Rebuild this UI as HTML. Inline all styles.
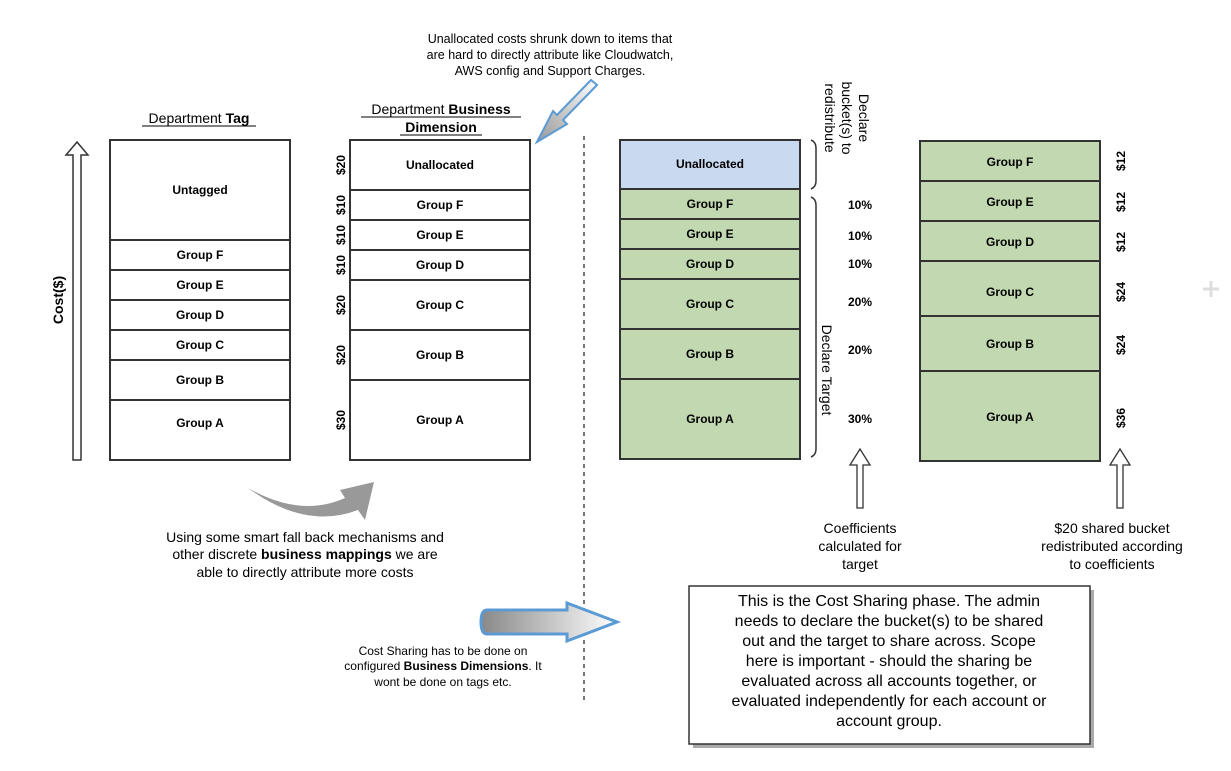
<!DOCTYPE html>
<html><head><style>
body{margin:0;background:#fff;}
svg text{font-family:"Liberation Sans",Arial,sans-serif;}
</style></head><body>
<svg width="1231" height="766" viewBox="0 0 1231 766" xmlns="http://www.w3.org/2000/svg">
<defs>
<linearGradient id="g1" x1="0" x2="1"><stop offset="0" stop-color="#888"/><stop offset="1" stop-color="#fff"/></linearGradient>
<linearGradient id="g2" x1="1" y1="0" x2="0" y2="1"><stop offset="0" stop-color="#fff"/><stop offset="1" stop-color="#999"/></linearGradient>
</defs>
<g fill="#000" font-size="12.5" text-anchor="middle">
<text x="550" y="43">Unallocated costs shrunk down to items that</text>
<text x="550" y="59">are hard to directly attribute like Cloudwatch,</text>
<text x="550" y="75">AWS config and Support Charges.</text>
</g>
<path d="M597,85 L563,120 L567,124 L537,142 L553,111 L557,115 L591,80 Z" fill="url(#g2)" stroke="#5b9bd5" stroke-width="2"/>
<g font-size="14" text-anchor="middle">
<text x="199" y="123">Department <tspan font-weight="bold">Tag</tspan></text>
<line x1="142" y1="126" x2="256" y2="126" stroke="#000"/>
<text x="441" y="114">Department <tspan font-weight="bold">Business</tspan></text>
<line x1="361" y1="117" x2="521" y2="117" stroke="#000"/>
<text x="441" y="132" font-weight="bold">Dimension</text>
<line x1="400" y1="135" x2="482" y2="135" stroke="#000"/>
</g>
<path d="M73,460 V155 H66 L77,142 L88,155 H81 V460 Z" fill="#fff" stroke="#333" stroke-width="1.5"/>
<text transform="translate(63,300) rotate(-90)" text-anchor="middle" font-size="14" font-weight="bold">Cost($)</text>
<g stroke="#333" stroke-width="2" fill="#fff">
<rect x="110" y="140" width="180" height="320"/>
<path d="M110,240H290M110,270H290M110,300H290M110,330H290M110,360H290M110,400H290" fill="none"/>
<rect x="350" y="140" width="180" height="320"/>
<path d="M350,190H530M350,220H530M350,250H530M350,280H530M350,330H530M350,380H530" fill="none"/>
<rect x="620" y="140" width="180" height="49" fill="#c9d9f0"/>
<rect x="620" y="189" width="180" height="270" fill="#c2d8b0"/>
<path d="M620,219H800M620,249H800M620,279H800M620,329H800M620,379H800" fill="none"/>
<rect x="920" y="141" width="180" height="320" fill="#c2d8b0"/>
<path d="M920,181H1100M920,221H1100M920,261H1100M920,316H1100M920,371H1100" fill="none"/>
</g>
<g font-size="12" font-weight="bold" text-anchor="middle">
<text x="200" y="194">Untagged</text><text x="200" y="259">Group F</text><text x="200" y="289">Group E</text><text x="200" y="319">Group D</text><text x="200" y="349">Group C</text><text x="200" y="384">Group B</text><text x="200" y="427">Group A</text>
<text x="440" y="169">Unallocated</text><text x="440" y="209">Group F</text><text x="440" y="239">Group E</text><text x="440" y="269">Group D</text><text x="440" y="309">Group C</text><text x="440" y="359">Group B</text><text x="440" y="424">Group A</text>
<text x="710" y="168">Unallocated</text><text x="710" y="208">Group F</text><text x="710" y="238">Group E</text><text x="710" y="268">Group D</text><text x="710" y="308">Group C</text><text x="710" y="358">Group B</text><text x="710" y="423">Group A</text>
<text x="1010" y="166">Group F</text><text x="1010" y="206">Group E</text><text x="1010" y="246">Group D</text><text x="1010" y="296">Group C</text><text x="1010" y="348">Group B</text><text x="1010" y="421">Group A</text>
<text x="860" y="209">10%</text><text x="860" y="240">10%</text><text x="860" y="268">10%</text><text x="860" y="306">20%</text><text x="860" y="354">20%</text><text x="860" y="423">30%</text>
</g>
<g font-size="12" font-weight="bold" text-anchor="middle">
<text transform="translate(345,165) rotate(-90)">$20</text>
<text transform="translate(345,205) rotate(-90)">$10</text>
<text transform="translate(345,235) rotate(-90)">$10</text>
<text transform="translate(345,265) rotate(-90)">$10</text>
<text transform="translate(345,305) rotate(-90)">$20</text>
<text transform="translate(345,355) rotate(-90)">$20</text>
<text transform="translate(345,420) rotate(-90)">$30</text>
<text transform="translate(1125,161) rotate(-90)">$12</text>
<text transform="translate(1125,202) rotate(-90)">$12</text>
<text transform="translate(1125,242) rotate(-90)">$12</text>
<text transform="translate(1125,292) rotate(-90)">$24</text>
<text transform="translate(1125,345) rotate(-90)">$24</text>
<text transform="translate(1125,418) rotate(-90)">$36</text>
</g>
<path d="M811,140 Q816,142 816,148 V181 Q816,187 811,189" fill="none" stroke="#333" stroke-width="1.5"/>
<path d="M811,197 Q816,199 816,205 V449 Q816,455 811,457" fill="none" stroke="#333" stroke-width="1.5"/>
<g font-size="14" text-anchor="middle">
<text transform="translate(859,118) rotate(90)">Declare</text>
<text transform="translate(842,118) rotate(90)">bucket(s) to</text>
<text transform="translate(825,118) rotate(90)">redistribute</text>
<text transform="translate(822,370) rotate(90)">Declare Target</text>
</g>
<path d="M857,508 V465 H850 L860,449 L870,465 H863 V508 Z" fill="#fff" stroke="#333" stroke-width="1.3"/>
<path d="M1117,508 V465 H1110 L1120,449 L1130,465 H1123 V508 Z" fill="#fff" stroke="#333" stroke-width="1.3"/>
<g font-size="14" text-anchor="middle">
<text x="860" y="533">Coefficients</text><text x="860" y="551">calculated for</text><text x="860" y="569">target</text>
<text x="1112" y="533">$20 shared bucket</text><text x="1112" y="551">redistributed according</text><text x="1112" y="569">to coefficients</text>
</g>
<line x1="584" y1="136" x2="584" y2="702" stroke="#777" stroke-width="2" stroke-dasharray="4,4"/>
<path d="M248,488 Q300,518 345,498 L340,490 L374,482 L365,520 L358,510 Q305,530 248,488 Z" fill="#999"/>
<g font-size="14" text-anchor="middle">
<text x="305" y="542">Using some smart fall back mechanisms and</text>
<text x="305" y="559">other discrete <tspan font-weight="bold">business mappings</tspan> we are</text>
<text x="305" y="577">able to directly attribute more costs</text>
</g>
<path d="M487,610 H567 V603 L617,622 L567,641 V634 H487 Q481,634 481,622 Q481,610 487,610 Z" fill="url(#g1)" stroke="#5b9bd5" stroke-width="3"/>
<g font-size="12" text-anchor="middle">
<text x="443" y="655">Cost Sharing has to be done on</text>
<text x="443" y="670">configured <tspan font-weight="bold">Business Dimensions</tspan>. It</text>
<text x="443" y="686">wont be done on tags etc.</text>
</g>
<rect x="693" y="590" width="401" height="158" fill="#aaa"/>
<rect x="689" y="586" width="401" height="158" fill="#fff" stroke="#333" stroke-width="1.5"/>
<g font-size="16" text-anchor="middle">
<text x="889" y="606">This is the Cost Sharing phase. The admin</text>
<text x="889" y="626">needs to declare the bucket(s) to be shared</text>
<text x="889" y="646">out and the target to share across. Scope</text>
<text x="889" y="666">here is important - should the sharing be</text>
<text x="889" y="686">evaluated across all accounts together, or</text>
<text x="889" y="706">evaluated independently for each account or</text>
<text x="889" y="726">account group.</text>
</g>
<path d="M1211,281V297M1203,289H1219" stroke="#ddd" stroke-width="3"/>
</svg>
</body></html>
